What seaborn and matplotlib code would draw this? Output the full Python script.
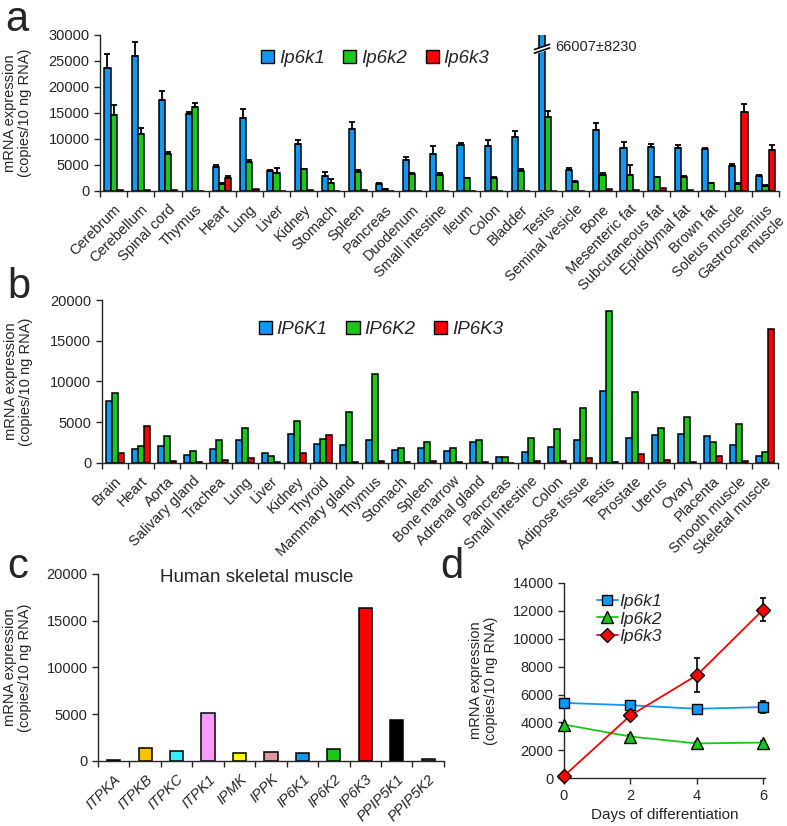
import matplotlib
matplotlib.use('Agg')
import matplotlib.pyplot as plt
from matplotlib.patches import Patch
from matplotlib.lines import Line2D
import seaborn as sns
import pandas as pd
import numpy as np

# ---- panel a: mouse tissues ----
tissues_a = ['Cerebrum', 'Cerebellum', 'Spinal cord', 'Thymus', 'Heart', 'Lung', 'Liver',
             'Kidney', 'Stomach', 'Spleen', 'Pancreas', 'Duodenum', 'Small intestine', 'Ileum',
             'Colon', 'Bladder', 'Testis', 'Seminal vesicle', 'Bone', 'Mesenteric fat',
             'Subcutaneous fat', 'Epididymal fat', 'Brown fat', 'Soleus muscle',
             'Gastrocnemius\nmuscle']
ip6k1_a = [23600, 25950, 17500, 14750, 4700, 14100, 3800, 9000, 2900, 11900, 1400, 6050, 7200,
           8800, 8700, 10400, 66007, 4000, 11700, 8250, 8500, 8350, 8050, 4750, 2850]
ip6k1_a_err = [2800, 2600, 1750, 500, 200, 1700, 200, 750, 700, 1300, 100, 500, 1500, 500,
               1150, 1150, 8230, 450, 1350, 1150, 500, 500, 200, 450, 260]
ip6k2_a = [14600, 11000, 7200, 16050, 1300, 5600, 3550, 4150, 1550, 3650, 300, 3300, 3000, 2450,
           2500, 3850, 14250, 1650, 3100, 3150, 2650, 2750, 1500, 1300, 900]
ip6k2_a_err = [2000, 1150, 300, 900, 150, 450, 950, 100, 700, 450, 50, 100, 450, 100, 100, 450,
               1100, 250, 450, 1800, 100, 100, 100, 150, 300]
ip6k3_a = [120, 100, 200, 80, 2550, 450, 60, 100, 80, 100, 80, 60, 80, 50, 60, 80, 60, 80, 450,
           100, 550, 100, 60, 15200, 7800]
ip6k3_a_err = [0, 0, 0, 0, 250, 0, 0, 0, 0, 0, 0, 0, 0, 0, 0, 0, 0, 0, 0, 0, 0, 0, 0, 1550, 950]
testis_note = '66007\u00b18230'

# ---- panel b: human tissues ----
tissues_b = ['Brain', 'Heart', 'Aorta', 'Salivary gland', 'Trachea', 'Lung', 'Liver', 'Kidney',
             'Thyroid', 'Mammary gland', 'Thymus', 'Stomach', 'Spleen', 'Bone marrow',
             'Adrenal gland', 'Pancreas', 'Small Intestine', 'Colon', 'Adipose tissue', 'Testis',
             'Prostate', 'Uterus', 'Ovary', 'Placenta', 'Smooth muscle', 'Skeletal muscle']
IP6K1_b = [7650, 1700, 2050, 950, 1700, 2850, 1200, 3500, 2300, 2250, 2850, 1650, 1850, 1500,
           2600, 700, 1350, 1950, 2850, 8800, 3050, 3400, 3600, 3300, 2150, 800]
IP6K2_b = [8550, 2100, 3250, 1500, 2800, 4350, 800, 5100, 2900, 6200, 10900, 1800, 2550, 1850,
           2850, 750, 3100, 4150, 6800, 18600, 8750, 4300, 5700, 2600, 4800, 1300]
IP6K3_b = [1250, 4500, 200, 80, 350, 600, 150, 1200, 3400, 80, 250, 80, 200, 60, 150, 40, 250,
           250, 550, 80, 1150, 350, 80, 800, 200, 16400]

# ---- panel c: human skeletal muscle ----
genes_c = ['ITPKA', 'ITPKB', 'ITPKC', 'ITPK1', 'IPMK', 'IPPK', 'IP6K1', 'IP6K2', 'IP6K3',
           'PPIP5K1', 'PPIP5K2']
values_c = [70, 1400, 1080, 5100, 860, 960, 860, 1300, 16400, 4400, 250]
colors_c = ['#A6A6A6', '#FFC000', '#33EEFF', '#FF99FF', '#FFFF00', '#D99A9A', '#0F99F5',
            '#19C819', '#FF0000', '#000000', '#8C8C8C']

# ---- panel d: differentiation time course ----
days = [0, 2, 4, 6]
ip6k1_d = [5400, 5230, 4980, 5100]
ip6k1_d_err = [200, 150, 300, 400]
ip6k2_d = [3850, 2990, 2500, 2560]
ip6k2_d_err = [100, 100, 100, 100]
ip6k3_d = [170, 4500, 7380, 12080]
ip6k3_d_err = [50, 250, 1200, 850]

BLUE, GREEN, RED = '#0F99F5', '#19C819', '#FF0000'
YLABEL = 'mRNA expression\n(copies/10 ng RNA)'

sns.set_style('ticks')
plt.rcParams['font.family'] = ['Liberation Sans', 'DejaVu Sans']
plt.rcParams['axes.linewidth'] = 1.0
plt.rcParams['axes.edgecolor'] = '#262626'


def category_axis(ax, labels, fs):
    n = len(labels)
    ax.set_xticks(range(n))
    ax.set_xticklabels(labels, rotation=45, ha='right', va='top',
                       rotation_mode='anchor', fontsize=fs)
    ax.tick_params(axis='x', which='major', length=0, pad=8)
    ax.set_xticks(np.arange(-0.5, n, 1), minor=True)
    ax.tick_params(axis='x', which='minor', length=4, width=1, direction='out')
    ax.set_xlim(-0.5, n - 0.5)
    ax.set_xlabel('')


def grouped_bars(ax, cats, series, names, errs=None, width=0.68):
    df = pd.concat([pd.DataFrame({'tissue': cats, 'gene': nm, 'value': vals})
                    for nm, vals in zip(names, series)])
    sns.barplot(data=df, x='tissue', y='value', hue='gene', order=cats, hue_order=names,
                palette=[BLUE, GREEN, RED], width=width, edgecolor='black', linewidth=1.1,
                errorbar=None, legend=False, ax=ax, saturation=1)
    if errs is not None:
        for cont, err in zip(ax.containers, errs):
            for bar, e in zip(cont, err):
                if e <= 0:
                    continue
                x = bar.get_x() + bar.get_width() / 2
                ax.errorbar(x, bar.get_height(), yerr=[[0], [e]], fmt='none', ecolor='black',
                            elinewidth=1.3, capsize=2, capthick=1.3, zorder=1)
    handles = [Patch(facecolor=c, edgecolor='black', linewidth=1) for c in [BLUE, GREEN, RED]]
    return handles


fig = plt.figure(figsize=(7.87, 8.26), dpi=100)

# ---------------- a ----------------
ax_a = fig.add_axes([0.1271, 0.7688, 0.8628, 0.1889])
names_a = ['Ip6k1', 'Ip6k2', 'Ip6k3']
h = grouped_bars(ax_a, tissues_a, [ip6k1_a, ip6k2_a, ip6k3_a], names_a,
                 [ip6k1_a_err, ip6k2_a_err, ip6k3_a_err])
ax_a.set_ylim(0, 30000)
ax_a.set_yticks(range(0, 30001, 5000))
ax_a.tick_params(axis='y', labelsize=10.5, length=4, width=1)
category_axis(ax_a, tissues_a, 10.5)
ax_a.set_ylabel(YLABEL, fontsize=10.5, linespacing=1.1)
ax_a.yaxis.set_label_coords(-0.100, 0.5)
ax_a.legend(h, names_a, loc='center', bbox_to_anchor=(0.405, 0.85), ncol=3, frameon=False,
            prop={'style': 'italic', 'size': 13.5}, handlelength=0.7, handleheight=0.7,
            handletextpad=0.25, columnspacing=1.0)
# broken testis bar
tb = ax_a.containers[0][tissues_a.index('Testis')]
xc = tb.get_x() + tb.get_width() / 2
for yo in (27000, 27700):
    ax_a.plot([xc - 0.28, xc + 0.28], [yo - 500, yo + 500], color='black', lw=1.2,
              zorder=5, clip_on=False)
ax_a.fill_between([xc - 0.2, xc + 0.2], [27000 - 360, 27000 + 360], [27700 - 360, 27700 + 360],
                  color='white', zorder=4)
ax_a.text(xc + 0.5, 27600, testis_note, fontsize=10.5, va='center', ha='left')
sns.despine(ax=ax_a)

# ---------------- b ----------------
ax_b = fig.add_axes([0.1292, 0.4395, 0.859, 0.1973])
names_b = ['IP6K1', 'IP6K2', 'IP6K3']
h = grouped_bars(ax_b, tissues_b, [IP6K1_b, IP6K2_b, IP6K3_b], names_b)
ax_b.set_ylim(0, 20000)
ax_b.set_yticks(range(0, 20001, 5000))
ax_b.tick_params(axis='y', labelsize=10.5, length=4, width=1)
category_axis(ax_b, tissues_b, 10.5)
ax_b.set_ylabel(YLABEL, fontsize=10.5, linespacing=1.1)
ax_b.yaxis.set_label_coords(-0.101, 0.5)
ax_b.legend(h, names_b, loc='center', bbox_to_anchor=(0.413, 0.82), ncol=3, frameon=False,
            prop={'style': 'italic', 'size': 13.5}, handlelength=0.7, handleheight=0.7,
            handletextpad=0.25, columnspacing=1.0)
sns.despine(ax=ax_b)

# ---------------- c ----------------
ax_c = fig.add_axes([0.1245, 0.0787, 0.4396, 0.2264])
sns.barplot(x=genes_c, y=values_c, hue=genes_c, palette=colors_c, legend=False, width=0.42,
            edgecolor='black', linewidth=1.1, saturation=1, ax=ax_c)
ax_c.set_ylim(0, 20000)
ax_c.set_yticks(range(0, 20001, 5000))
ax_c.tick_params(axis='y', labelsize=10.5, length=4, width=1)
category_axis(ax_c, genes_c, 10.5)
for lab in ax_c.get_xticklabels():
    lab.set_style('italic')
ax_c.set_ylabel(YLABEL, fontsize=10.5, linespacing=1.1)
ax_c.yaxis.set_label_coords(-0.19, 0.5)
ax_c.text(0.46, 0.98, 'Human skeletal muscle', transform=ax_c.transAxes, ha='center',
          va='center', fontsize=13.5)
sns.despine(ax=ax_c)

# ---------------- d ----------------
ax_d = fig.add_axes([0.7166, 0.0577, 0.2554, 0.2368])
series_d = [('Ip6k1', ip6k1_d, ip6k1_d_err, BLUE, 's', 7.5),
            ('Ip6k2', ip6k2_d, ip6k2_d_err, GREEN, '^', 9),
            ('Ip6k3', ip6k3_d, ip6k3_d_err, RED, 'D', 7.5)]
handles_d = []
for name, vals, err, col, mk, ms in series_d:
    ax_d.errorbar(days, vals, yerr=err, fmt='none', ecolor='black', elinewidth=1.2,
                  capsize=2, capthick=1.2, zorder=3, clip_on=False)
    sns.lineplot(x=days, y=vals, color=col, marker=mk, markersize=ms, markeredgecolor='black',
                 markeredgewidth=1, linewidth=1.3, ax=ax_d, clip_on=False, zorder=4)
    handles_d.append(Line2D([], [], color=col, marker=mk, markersize=ms - 0.5,
                            markeredgecolor='black', markeredgewidth=1, lw=1.3))
ax_d.set_xlim(0, 6.05)
ax_d.set_ylim(0, 14000)
ax_d.set_xticks(days)
ax_d.set_yticks(range(0, 14001, 2000))
ax_d.tick_params(labelsize=10.5, length=4, width=1)
ax_d.set_xlabel('Days of differentiation', fontsize=11)
ax_d.set_ylabel(YLABEL, fontsize=10.5, linespacing=1.1)
ax_d.yaxis.set_label_coords(-0.33, 0.5)
ax_d.legend(handles_d, ['Ip6k1', 'Ip6k2', 'Ip6k3'], loc='upper left',
            bbox_to_anchor=(0.13, 0.98), frameon=False,
            prop={'style': 'italic', 'size': 12.5}, handlelength=1.2, handletextpad=0.1,
            labelspacing=0.15, borderaxespad=0)
sns.despine(ax=ax_d)

# panel letters
for letter, x, y in [('a', 5, 31), ('b', 7, 298), ('c', 7, 578), ('d', 440, 578)]:
    fig.text(x / 787, 1 - y / 826, letter, fontsize=30, ha='left', va='baseline')

fig.savefig('out.png', dpi=100)
